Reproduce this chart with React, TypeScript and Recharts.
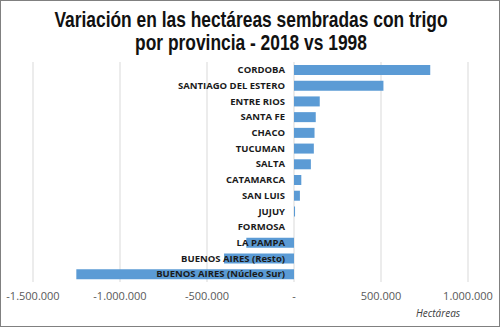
import { Bar, BarChart, CartesianGrid, XAxis, YAxis } from "recharts";

const provinces = [
  "CORDOBA",
  "SANTIAGO DEL ESTERO",
  "ENTRE RIOS",
  "SANTA FE",
  "CHACO",
  "TUCUMAN",
  "SALTA",
  "CATAMARCA",
  "SAN LUIS",
  "JUJUY",
  "FORMOSA",
  "LA PAMPA",
  "BUENOS AIRES (Resto)",
  "BUENOS AIRES (Núcleo Sur)",
];

const variation = [
  783000, 514000, 148000, 125000, 118000, 114000, 97000, 42000, 34000, 6000, 0,
  -274000, -402000, -1251000,
];

const xTicks = [-1500000, -1000000, -500000, 0, 500000, 1000000];
const xDomain = [-1500000, 1000000];

const data = provinces.map((name, i) => ({ name, value: variation[i] }));

const CHART_W = 500;
const Y_AXIS_W = 1;
const MARGIN = { top: 62, right: 32, left: 32, bottom: 15 };
const PLOT_LEFT = MARGIN.left + Y_AXIS_W;
const ZERO_X =
  PLOT_LEFT +
  ((CHART_W - PLOT_LEFT - MARGIN.right) * (0 - xDomain[0])) / (xDomain[1] - xDomain[0]);

function formatTick(value: number) {
  if (value === 0) return "-";
  const abs = Math.abs(value).toString().replace(/\B(?=(\d{3})+(?!\d))/g, ".");
  return value < 0 ? `-${abs}` : abs;
}

function ProvinceTick(props: any) {
  const { y, payload } = props;
  return (
    <text
      x={ZERO_X - 9}
      y={y}
      dy="0.35em"
      textAnchor="end"
      fontFamily="Open Sans, sans-serif"
      fontWeight={700}
      fontSize={9.5}
      fill="#1a1a1a"
    >
      {payload.value}
    </text>
  );
}

export default function App() {
  return (
    <div
      style={{
        position: "relative",
        width: 500,
        height: 327,
        boxSizing: "border-box",
        border: "1px solid #808080",
        background: "#fff",
        overflow: "hidden",
      }}
    >
      <style>{`body{margin:0}`}</style>
      <div
        style={{
          position: "absolute",
          top: 7,
          left: 0,
          width: 500,
          textAlign: "center",
          fontFamily: "Liberation Sans, sans-serif",
          fontWeight: 700,
          fontSize: 22,
          lineHeight: "23px",
          color: "#111",
          transform: "scaleX(0.79)",
          transformOrigin: "250px 0",
          whiteSpace: "nowrap",
        }}
      >
        Variación en las hectáreas sembradas con trigo
        <br />
        por provincia - 2018 vs 1998
      </div>
      <div style={{ position: "absolute", top: -1, left: -1 }}>
        <BarChart
          width={CHART_W}
          height={327}
          data={data}
          layout="vertical"
          margin={MARGIN}
          barSize={10}
        >
          <CartesianGrid horizontal={false} stroke="#d9d9d9" />
          <XAxis
            type="number"
            domain={xDomain}
            ticks={xTicks}
            tickFormatter={formatTick}
            axisLine={false}
            tickLine={false}
            tickMargin={4}
            height={30}
            interval={0}
            tick={{ fontSize: 11, fill: "#595959", fontFamily: "Open Sans, sans-serif" }}
          />
          <Bar dataKey="value" fill="#5b9bd5" isAnimationActive={false} />
          <YAxis
            type="category"
            dataKey="name"
            width={Y_AXIS_W}
            axisLine={false}
            tickLine={false}
            interval={0}
            tick={<ProvinceTick />}
          />
        </BarChart>
      </div>
      <div
        style={{
          position: "absolute",
          left: 415,
          top: 305,
          fontFamily: "Open Sans, sans-serif",
          fontStyle: "italic",
          fontSize: 10,
          color: "#404040",
        }}
      >
        Hectáreas
      </div>
    </div>
  );
}
